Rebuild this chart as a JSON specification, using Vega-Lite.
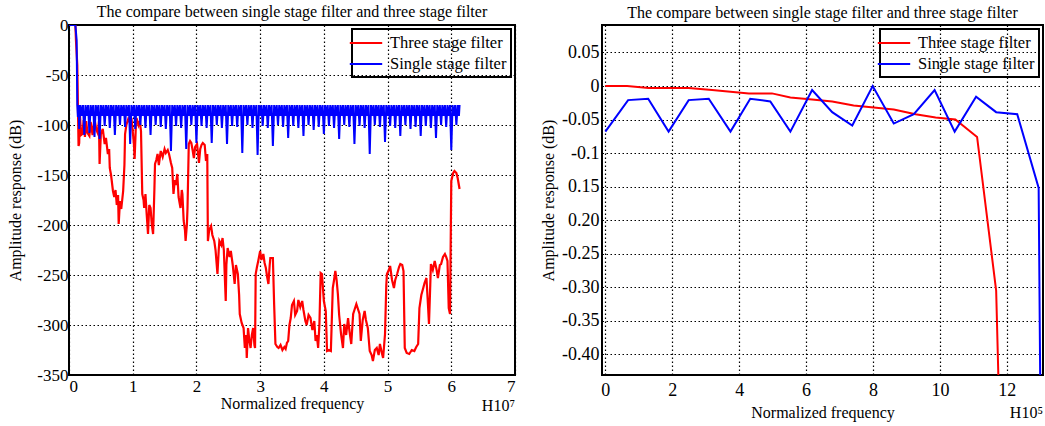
{
  "$schema": "https://vega.github.io/schema/vega-lite/v6.json",
  "background": "white",
  "padding": {"left": 6, "top": 3, "right": 2, "bottom": 0},
  "datasets": {
    "redL": [
      {"x":0,"y":0},{"x":0.1,"y":0},{"x":0.11,"y":-16},{"x":0.13,"y":-40},{"x":0.15,"y":-121},{"x":0.16,"y":-118},{"x":0.17,"y":-88},{"x":0.19,"y":-110},{"x":0.21,"y":-109},{"x":0.23,"y":-95},{"x":0.25,"y":-112},{"x":0.27,"y":-96},{"x":0.29,"y":-108},{"x":0.32,"y":-111},{"x":0.34,"y":-97},{"x":0.37,"y":-110},{"x":0.4,"y":-94},{"x":0.43,"y":-105},{"x":0.45,"y":-108},{"x":0.47,"y":-96},{"x":0.48,"y":-139},{"x":0.5,"y":-109},{"x":0.53,"y":-104},{"x":0.56,"y":-119},{"x":0.58,"y":-113},{"x":0.61,"y":-129},{"x":0.63,"y":-124},{"x":0.64,"y":-143},{"x":0.66,"y":-150},{"x":0.69,"y":-166},{"x":0.71,"y":-172},{"x":0.73,"y":-165},{"x":0.75,"y":-180},{"x":0.77,"y":-170},{"x":0.78,"y":-199},{"x":0.8,"y":-176},{"x":0.82,"y":-184},{"x":0.85,"y":-166},{"x":0.87,"y":-140},{"x":0.88,"y":-109},{"x":0.9,"y":-100},{"x":0.93,"y":-94},{"x":0.96,"y":-98},{"x":0.98,"y":-93},{"x":1.0,"y":-106},{"x":1.02,"y":-120},{"x":1.03,"y":-134},{"x":1.05,"y":-100},{"x":1.06,"y":-93},{"x":1.09,"y":-100},{"x":1.11,"y":-96},{"x":1.13,"y":-106},{"x":1.15,"y":-169},{"x":1.17,"y":-175},{"x":1.18,"y":-183},{"x":1.2,"y":-169},{"x":1.22,"y":-190},{"x":1.24,"y":-209},{"x":1.26,"y":-180},{"x":1.28,"y":-183},{"x":1.3,"y":-200},{"x":1.32,"y":-209},{"x":1.34,"y":-165},{"x":1.35,"y":-139},{"x":1.37,"y":-135},{"x":1.39,"y":-129},{"x":1.41,"y":-140},{"x":1.44,"y":-126},{"x":1.47,"y":-132},{"x":1.5,"y":-124},{"x":1.52,"y":-128},{"x":1.55,"y":-125},{"x":1.57,"y":-129},{"x":1.6,"y":-138},{"x":1.62,"y":-143},{"x":1.64,"y":-169},{"x":1.66,"y":-155},{"x":1.68,"y":-160},{"x":1.7,"y":-149},{"x":1.72,"y":-172},{"x":1.75,"y":-183},{"x":1.77,"y":-165},{"x":1.78,"y":-169},{"x":1.8,"y":-196},{"x":1.82,"y":-205},{"x":1.83,"y":-216},{"x":1.85,"y":-200},{"x":1.86,"y":-183},{"x":1.88,"y":-119},{"x":1.9,"y":-116},{"x":1.92,"y":-118},{"x":1.94,"y":-125},{"x":1.96,"y":-133},{"x":1.98,"y":-122},{"x":2.01,"y":-119},{"x":2.04,"y":-138},{"x":2.06,"y":-124},{"x":2.08,"y":-120},{"x":2.1,"y":-118},{"x":2.13,"y":-120},{"x":2.15,"y":-136},{"x":2.17,"y":-129},{"x":2.18,"y":-216},{"x":2.2,"y":-205},{"x":2.23,"y":-201},{"x":2.25,"y":-210},{"x":2.28,"y":-216},{"x":2.3,"y":-225},{"x":2.33,"y":-249},{"x":2.35,"y":-225},{"x":2.36,"y":-216},{"x":2.39,"y":-220},{"x":2.41,"y":-213},{"x":2.43,"y":-225},{"x":2.46,"y":-276},{"x":2.47,"y":-240},{"x":2.49,"y":-223},{"x":2.52,"y":-232},{"x":2.54,"y":-226},{"x":2.57,"y":-240},{"x":2.6,"y":-259},{"x":2.62,"y":-240},{"x":2.65,"y":-249},{"x":2.67,"y":-270},{"x":2.68,"y":-289},{"x":2.71,"y":-298},{"x":2.74,"y":-303},{"x":2.76,"y":-323},{"x":2.78,"y":-310},{"x":2.79,"y":-333},{"x":2.81,"y":-303},{"x":2.83,"y":-315},{"x":2.85,"y":-323},{"x":2.87,"y":-310},{"x":2.89,"y":-303},{"x":2.91,"y":-320},{"x":2.92,"y":-323},{"x":2.93,"y":-249},{"x":2.95,"y":-242},{"x":2.97,"y":-236},{"x":3.0,"y":-226},{"x":3.02,"y":-235},{"x":3.05,"y":-229},{"x":3.07,"y":-238},{"x":3.09,"y":-243},{"x":3.11,"y":-252},{"x":3.13,"y":-259},{"x":3.15,"y":-240},{"x":3.16,"y":-233},{"x":3.2,"y":-233},{"x":3.22,"y":-280},{"x":3.24,"y":-319},{"x":3.27,"y":-322},{"x":3.29,"y":-323},{"x":3.32,"y":-320},{"x":3.35,"y":-325},{"x":3.38,"y":-322},{"x":3.4,"y":-324},{"x":3.42,"y":-318},{"x":3.44,"y":-316},{"x":3.46,"y":-300},{"x":3.48,"y":-293},{"x":3.5,"y":-280},{"x":3.53,"y":-276},{"x":3.55,"y":-290},{"x":3.58,"y":-286},{"x":3.6,"y":-275},{"x":3.63,"y":-282},{"x":3.66,"y":-276},{"x":3.68,"y":-285},{"x":3.71,"y":-296},{"x":3.73,"y":-300},{"x":3.76,"y":-290},{"x":3.79,"y":-293},{"x":3.82,"y":-305},{"x":3.85,"y":-296},{"x":3.87,"y":-316},{"x":3.89,"y":-310},{"x":3.91,"y":-323},{"x":3.93,"y":-300},{"x":3.95,"y":-248},{"x":3.97,"y":-249},{"x":4.0,"y":-276},{"x":4.03,"y":-286},{"x":4.05,"y":-326},{"x":4.08,"y":-325},{"x":4.11,"y":-326},{"x":4.14,"y":-263},{"x":4.16,"y":-255},{"x":4.18,"y":-246},{"x":4.2,"y":-255},{"x":4.22,"y":-269},{"x":4.24,"y":-290},{"x":4.27,"y":-309},{"x":4.3,"y":-323},{"x":4.32,"y":-299},{"x":4.35,"y":-310},{"x":4.38,"y":-293},{"x":4.4,"y":-305},{"x":4.43,"y":-319},{"x":4.46,"y":-289},{"x":4.48,"y":-285},{"x":4.51,"y":-279},{"x":4.53,"y":-283},{"x":4.56,"y":-289},{"x":4.58,"y":-316},{"x":4.61,"y":-295},{"x":4.64,"y":-286},{"x":4.66,"y":-295},{"x":4.69,"y":-303},{"x":4.72,"y":-326},{"x":4.75,"y":-330},{"x":4.77,"y":-336},{"x":4.8,"y":-325},{"x":4.83,"y":-323},{"x":4.86,"y":-330},{"x":4.88,"y":-319},{"x":4.91,"y":-328},{"x":4.93,"y":-333},{"x":4.96,"y":-309},{"x":4.98,"y":-260},{"x":4.99,"y":-249},{"x":5.02,"y":-245},{"x":5.04,"y":-241},{"x":5.07,"y":-255},{"x":5.1,"y":-263},{"x":5.12,"y":-255},{"x":5.15,"y":-249},{"x":5.18,"y":-242},{"x":5.2,"y":-239},{"x":5.23,"y":-240},{"x":5.25,"y":-246},{"x":5.27,"y":-323},{"x":5.3,"y":-328},{"x":5.34,"y":-329},{"x":5.38,"y":-325},{"x":5.42,"y":-326},{"x":5.45,"y":-322},{"x":5.48,"y":-319},{"x":5.5,"y":-283},{"x":5.53,"y":-270},{"x":5.56,"y":-263},{"x":5.58,"y":-258},{"x":5.61,"y":-253},{"x":5.63,"y":-275},{"x":5.65,"y":-299},{"x":5.67,"y":-260},{"x":5.68,"y":-239},{"x":5.71,"y":-245},{"x":5.74,"y":-236},{"x":5.77,"y":-245},{"x":5.79,"y":-253},{"x":5.82,"y":-240},{"x":5.84,"y":-239},{"x":5.87,"y":-232},{"x":5.9,"y":-229},{"x":5.92,"y":-232},{"x":5.94,"y":-236},{"x":5.96,"y":-283},{"x":5.98,"y":-289},{"x":6.0,"y":-156},{"x":6.03,"y":-148},{"x":6.05,"y":-146},{"x":6.08,"y":-148},{"x":6.1,"y":-153},{"x":6.13,"y":-164}
    ],
    "blueL": [
      {"x":0,"y":0},{"x":0.1,"y":0},{"x":0.12,"y":-15},{"x":0.13,"y":-80},{"x":0.14,"y":-92},{"x":0.15,"y":-80},{"x":0.16,"y":-104},
      {"x":0.18,"y":-80},{"x":0.2,"y":-91},{"x":0.22,"y":-80},{"x":0.24,"y":-110},
      {"x":0.26,"y":-80},{"x":0.28,"y":-91},{"x":0.3,"y":-80},{"x":0.32,"y":-108},
      {"x":0.34,"y":-80},{"x":0.36,"y":-91},{"x":0.38,"y":-80},{"x":0.4,"y":-112},
      {"x":0.42,"y":-80},{"x":0.44,"y":-91},{"x":0.46,"y":-80},{"x":0.48,"y":-114},
      {"x":0.5,"y":-80},{"x":0.52,"y":-91},{"x":0.54,"y":-80},{"x":0.56,"y":-101},
      {"x":0.58,"y":-80},{"x":0.6,"y":-91},{"x":0.62,"y":-80},{"x":0.64,"y":-103},
      {"x":0.66,"y":-80},{"x":0.68,"y":-91},{"x":0.7,"y":-80},{"x":0.72,"y":-110},
      {"x":0.74,"y":-80},{"x":0.76,"y":-91},{"x":0.78,"y":-80},{"x":0.8,"y":-100},
      {"x":0.82,"y":-80},{"x":0.84,"y":-91},{"x":0.86,"y":-80},{"x":0.88,"y":-102},
      {"x":0.9,"y":-80},{"x":0.92,"y":-91},{"x":0.94,"y":-80},{"x":0.96,"y":-119},
      {"x":0.98,"y":-80},{"x":1.0,"y":-91},{"x":1.02,"y":-80},{"x":1.04,"y":-104},
      {"x":1.06,"y":-80},{"x":1.08,"y":-91},{"x":1.1,"y":-80},{"x":1.12,"y":-100},
      {"x":1.14,"y":-80},{"x":1.16,"y":-91},{"x":1.18,"y":-80},{"x":1.2,"y":-103},
      {"x":1.22,"y":-80},{"x":1.24,"y":-91},{"x":1.26,"y":-80},{"x":1.28,"y":-110},
      {"x":1.3,"y":-80},{"x":1.32,"y":-91},{"x":1.34,"y":-80},{"x":1.36,"y":-100},
      {"x":1.38,"y":-80},{"x":1.4,"y":-91},{"x":1.42,"y":-80},{"x":1.44,"y":-102},
      {"x":1.46,"y":-80},{"x":1.48,"y":-91},{"x":1.5,"y":-80},{"x":1.52,"y":-104},
      {"x":1.54,"y":-80},{"x":1.56,"y":-91},{"x":1.58,"y":-80},{"x":1.6,"y":-126},
      {"x":1.62,"y":-80},{"x":1.64,"y":-91},{"x":1.66,"y":-80},{"x":1.68,"y":-101},
      {"x":1.7,"y":-80},{"x":1.72,"y":-91},{"x":1.74,"y":-80},{"x":1.76,"y":-103},
      {"x":1.78,"y":-80},{"x":1.8,"y":-91},{"x":1.82,"y":-80},{"x":1.84,"y":-124},
      {"x":1.86,"y":-80},{"x":1.88,"y":-91},{"x":1.9,"y":-80},{"x":1.92,"y":-100},
      {"x":1.94,"y":-80},{"x":1.96,"y":-91},{"x":1.98,"y":-80},{"x":2.0,"y":-118},
      {"x":2.02,"y":-80},{"x":2.04,"y":-91},{"x":2.06,"y":-80},{"x":2.08,"y":-101},
      {"x":2.1,"y":-80},{"x":2.12,"y":-91},{"x":2.14,"y":-80},{"x":2.16,"y":-103},
      {"x":2.18,"y":-80},{"x":2.2,"y":-91},{"x":2.22,"y":-80},{"x":2.24,"y":-118},
      {"x":2.26,"y":-80},{"x":2.28,"y":-91},{"x":2.3,"y":-80},{"x":2.32,"y":-100},
      {"x":2.34,"y":-80},{"x":2.36,"y":-91},{"x":2.38,"y":-80},{"x":2.4,"y":-103},
      {"x":2.42,"y":-80},{"x":2.44,"y":-91},{"x":2.46,"y":-80},{"x":2.48,"y":-119},
      {"x":2.5,"y":-80},{"x":2.52,"y":-91},{"x":2.54,"y":-80},{"x":2.56,"y":-101},
      {"x":2.58,"y":-80},{"x":2.6,"y":-91},{"x":2.62,"y":-80},{"x":2.64,"y":-102},
      {"x":2.66,"y":-80},{"x":2.68,"y":-91},{"x":2.7,"y":-80},{"x":2.72,"y":-128},
      {"x":2.74,"y":-80},{"x":2.76,"y":-91},{"x":2.78,"y":-80},{"x":2.8,"y":-100},
      {"x":2.82,"y":-80},{"x":2.84,"y":-91},{"x":2.86,"y":-80},{"x":2.88,"y":-103},
      {"x":2.9,"y":-80},{"x":2.92,"y":-91},{"x":2.94,"y":-80},{"x":2.96,"y":-130},
      {"x":2.98,"y":-80},{"x":3.0,"y":-91},{"x":3.02,"y":-80},{"x":3.04,"y":-101},
      {"x":3.06,"y":-80},{"x":3.08,"y":-91},{"x":3.1,"y":-80},{"x":3.12,"y":-103},
      {"x":3.14,"y":-80},{"x":3.16,"y":-91},{"x":3.18,"y":-80},{"x":3.2,"y":-121},
      {"x":3.22,"y":-80},{"x":3.24,"y":-91},{"x":3.26,"y":-80},{"x":3.28,"y":-100},
      {"x":3.3,"y":-80},{"x":3.32,"y":-91},{"x":3.34,"y":-80},{"x":3.36,"y":-102},
      {"x":3.38,"y":-80},{"x":3.4,"y":-91},{"x":3.42,"y":-80},{"x":3.44,"y":-113},
      {"x":3.46,"y":-80},{"x":3.48,"y":-91},{"x":3.5,"y":-80},{"x":3.52,"y":-101},
      {"x":3.54,"y":-80},{"x":3.56,"y":-91},{"x":3.58,"y":-80},{"x":3.6,"y":-103},
      {"x":3.62,"y":-80},{"x":3.64,"y":-91},{"x":3.66,"y":-80},{"x":3.68,"y":-111},
      {"x":3.7,"y":-80},{"x":3.72,"y":-91},{"x":3.74,"y":-80},{"x":3.76,"y":-100},
      {"x":3.78,"y":-80},{"x":3.8,"y":-91},{"x":3.82,"y":-80},{"x":3.84,"y":-105},
      {"x":3.86,"y":-80},{"x":3.88,"y":-91},{"x":3.9,"y":-80},{"x":3.92,"y":-102},
      {"x":3.94,"y":-80},{"x":3.96,"y":-91},{"x":3.98,"y":-80},{"x":4.0,"y":-109},
      {"x":4.02,"y":-80},{"x":4.04,"y":-91},{"x":4.06,"y":-80},{"x":4.08,"y":-101},
      {"x":4.1,"y":-80},{"x":4.12,"y":-91},{"x":4.14,"y":-80},{"x":4.16,"y":-103},
      {"x":4.18,"y":-80},{"x":4.2,"y":-91},{"x":4.22,"y":-80},{"x":4.24,"y":-114},
      {"x":4.26,"y":-80},{"x":4.28,"y":-91},{"x":4.3,"y":-80},{"x":4.32,"y":-100},
      {"x":4.34,"y":-80},{"x":4.36,"y":-91},{"x":4.38,"y":-80},{"x":4.4,"y":-102},
      {"x":4.42,"y":-80},{"x":4.44,"y":-91},{"x":4.46,"y":-80},{"x":4.48,"y":-119},
      {"x":4.5,"y":-80},{"x":4.52,"y":-91},{"x":4.54,"y":-80},{"x":4.56,"y":-101},
      {"x":4.58,"y":-80},{"x":4.6,"y":-91},{"x":4.62,"y":-80},{"x":4.64,"y":-103},
      {"x":4.66,"y":-80},{"x":4.68,"y":-91},{"x":4.7,"y":-80},{"x":4.72,"y":-129},
      {"x":4.74,"y":-80},{"x":4.76,"y":-91},{"x":4.78,"y":-80},{"x":4.8,"y":-100},
      {"x":4.82,"y":-80},{"x":4.84,"y":-91},{"x":4.86,"y":-80},{"x":4.88,"y":-102},
      {"x":4.9,"y":-80},{"x":4.92,"y":-91},{"x":4.94,"y":-80},{"x":4.96,"y":-117},
      {"x":4.98,"y":-80},{"x":5.0,"y":-91},{"x":5.02,"y":-80},{"x":5.04,"y":-101},
      {"x":5.06,"y":-80},{"x":5.08,"y":-91},{"x":5.1,"y":-80},{"x":5.12,"y":-103},
      {"x":5.14,"y":-80},{"x":5.16,"y":-91},{"x":5.18,"y":-80},{"x":5.2,"y":-111},
      {"x":5.22,"y":-80},{"x":5.24,"y":-91},{"x":5.26,"y":-80},{"x":5.28,"y":-100},
      {"x":5.3,"y":-80},{"x":5.32,"y":-91},{"x":5.34,"y":-80},{"x":5.36,"y":-104},
      {"x":5.38,"y":-80},{"x":5.4,"y":-91},{"x":5.42,"y":-80},{"x":5.44,"y":-102},
      {"x":5.46,"y":-80},{"x":5.48,"y":-91},{"x":5.5,"y":-80},{"x":5.52,"y":-111},
      {"x":5.54,"y":-80},{"x":5.56,"y":-91},{"x":5.58,"y":-80},{"x":5.6,"y":-101},
      {"x":5.62,"y":-80},{"x":5.64,"y":-91},{"x":5.66,"y":-80},{"x":5.68,"y":-103},
      {"x":5.7,"y":-80},{"x":5.72,"y":-91},{"x":5.74,"y":-80},{"x":5.76,"y":-113},
      {"x":5.78,"y":-80},{"x":5.8,"y":-91},{"x":5.82,"y":-80},{"x":5.84,"y":-100},
      {"x":5.86,"y":-80},{"x":5.88,"y":-91},{"x":5.9,"y":-80},{"x":5.92,"y":-102},
      {"x":5.94,"y":-80},{"x":5.96,"y":-91},{"x":5.98,"y":-80},{"x":6.0,"y":-125},
      {"x":6.02,"y":-80},{"x":6.04,"y":-91},{"x":6.06,"y":-80},{"x":6.08,"y":-100},
      {"x":6.1,"y":-80},{"x":6.12,"y":-91},{"x":6.13,"y":-80}
    ],
    "redR": [
      {"x":0,"y":0},{"x":0.65,"y":0},{"x":1.29,"y":-0.003},{"x":2.49,"y":-0.003},{"x":3.19,"y":-0.006},{"x":4.29,"y":-0.011},{"x":4.98,"y":-0.011},{"x":5.53,"y":-0.017},{"x":6.18,"y":-0.02},{"x":6.78,"y":-0.023},{"x":7.42,"y":-0.029},{"x":8.02,"y":-0.032},{"x":8.62,"y":-0.035},{"x":9.27,"y":-0.042},{"x":9.87,"y":-0.047},{"x":10.46,"y":-0.05},{"x":11.11,"y":-0.076},{"x":11.68,"y":-0.305},{"x":11.76,"y":-0.46}
    ],
    "blueR": [
      {"x":0,"y":-0.068},{"x":0.68,"y":-0.021},{"x":1.28,"y":-0.019},{"x":1.89,"y":-0.068},{"x":2.49,"y":-0.021},{"x":3.09,"y":-0.019},{"x":3.74,"y":-0.068},{"x":4.33,"y":-0.019},{"x":4.93,"y":-0.023},{"x":5.53,"y":-0.068},{"x":6.18,"y":-0.006},{"x":6.78,"y":-0.039},{"x":7.38,"y":-0.059},{"x":7.99,"y":0},{"x":8.62,"y":-0.056},{"x":9.22,"y":-0.042},{"x":9.84,"y":-0.006},{"x":10.44,"y":-0.068},{"x":11.08,"y":-0.016},{"x":11.68,"y":-0.039},{"x":12.31,"y":-0.042},{"x":12.95,"y":-0.152},{"x":13.0,"y":-0.46}
    ]
  },
  "config": {
    "font": "Liberation Serif",
    "view": {"stroke": "black", "strokeWidth": 2},
    "axis": {
      "grid": true, "gridColor": "black", "gridDash": [1.5, 2.5], "gridWidth": 1.2, "gridOpacity": 1,
      "domain": false, "ticks": false,
      "labelFont": "Liberation Serif", "labelFontSize": 17, "labelColor": "black",
      "titleFont": "Liberation Serif", "titleFontSize": 16, "titleFontWeight": "normal", "titleColor": "black"
    },
    "title": {"font": "Liberation Serif", "fontSize": 16, "fontWeight": "normal", "color": "black", "offset": -4},
    "legend": {
      "orient": "top-right", "offset": 4, "strokeColor": "black", "strokeWidth": 2, "padding": 4,
      "symbolType": "M-1.8,0H1.8", "symbolStrokeWidth": 2, "symbolSize": 324, "symbolFillColor": "transparent",
      "labelFont": "Liberation Serif", "labelFontSize": 16.5, "labelColor": "black", "labelOffset": 14, "rowPadding": 2
    }
  },
  "spacing": 87,
  "bounds": "flush",
  "resolve": {"scale": {"color": "independent"}, "legend": {"color": "independent"}},
  "hconcat": [
    {
      "width": 446, "height": 350,
      "title": {"text": "The compare between single stage filter and three stage filter", "offset": -4},
      "encoding": {
        "x": {"field": "x", "type": "quantitative", "scale": {"domain": [0, 7], "nice": false, "zero": false},
              "axis": {"title": "Normalized frequency", "values": [0,1,2,3,4,5,6,7], "labelPadding": 3, "titlePadding": 1}},
        "y": {"field": "y", "type": "quantitative", "scale": {"domain": [-350, 0], "nice": false},
              "axis": {"title": "Amplitude response (dB)", "values": [0,-50,-100,-150,-200,-250,-300,-350], "labelExpr": "'' + datum.value", "labelPadding": 1, "titlePadding": 13}}
      },
      "layer": [
        {"data": {"name": "redL"}, "mark": {"type": "line", "clip": true, "strokeWidth": 2.2},
         "encoding": {"color": {"datum": "Three stage filter", "type": "nominal", "scale": {"domain": ["Three stage filter", "Single stage filter"], "range": ["#ff0000", "#0000ff"]}, "legend": {"title": null}}}},
        {"data": {"name": "blueL"}, "mark": {"type": "line", "clip": true, "strokeWidth": 2},
         "encoding": {"color": {"datum": "Single stage filter", "type": "nominal"}}},
        {"data": {"values": [{"x": 7, "y": -350, "label": "H10⁷"}]},
         "mark": {"type": "text", "align": "right", "baseline": "alphabetic", "dy": 36, "fontSize": 16, "font": "Liberation Serif", "color": "black"},
         "encoding": {"text": {"field": "label"}}}
      ]
    },
    {
      "width": 441, "height": 350,
      "title": {"text": "The compare between single stage filter and three stage filter", "offset": 4},
      "encoding": {
        "x": {"field": "x", "type": "quantitative", "scale": {"domain": [-0.1, 13.08], "nice": false, "zero": false},
              "axis": {"title": "Normalized frequency", "values": [0,2,4,6,8,10,12], "labelPadding": 6, "labelFontSize": 18, "titlePadding": 5}},
        "y": {"field": "y", "type": "quantitative", "scale": {"domain": [-0.431, 0.091], "nice": false, "zero": false},
              "axis": {"title": "Amplitude response (dB)", "values": [0.05,0,-0.05,-0.1,-0.15,-0.2,-0.25,-0.3,-0.35,-0.4],
                       "labelExpr": "datum.value > 0.04 ? '0.05' : datum.value > -0.01 ? '0' : datum.value > -0.06 ? '-0.05' : datum.value > -0.11 ? '-0.1' : datum.value > -0.16 ? '0.15' : datum.value > -0.21 ? '0.20' : datum.value > -0.26 ? '-0.25' : datum.value > -0.31 ? '-0.30' : datum.value > -0.36 ? '-0.35' : '-0.40'",
                       "labelPadding": 3, "labelFontSize": 18, "titlePadding": 5}}
      },
      "layer": [
        {"data": {"name": "redR"}, "mark": {"type": "line", "clip": true, "strokeWidth": 2},
         "encoding": {"color": {"datum": "Three stage filter", "type": "nominal", "scale": {"domain": ["Three stage filter", "Single stage filter"], "range": ["#ff0000", "#0000ff"]}, "legend": {"title": null}}}},
        {"data": {"name": "blueR"}, "mark": {"type": "line", "clip": true, "strokeWidth": 2},
         "encoding": {"color": {"datum": "Single stage filter", "type": "nominal"}}},
        {"data": {"values": [{"x": 13.08, "y": -0.431, "label": "H10⁵"}]},
         "mark": {"type": "text", "align": "right", "baseline": "alphabetic", "dy": 43, "fontSize": 16, "font": "Liberation Serif", "color": "black"},
         "encoding": {"text": {"field": "label"}}}
      ]
    }
  ]
}
